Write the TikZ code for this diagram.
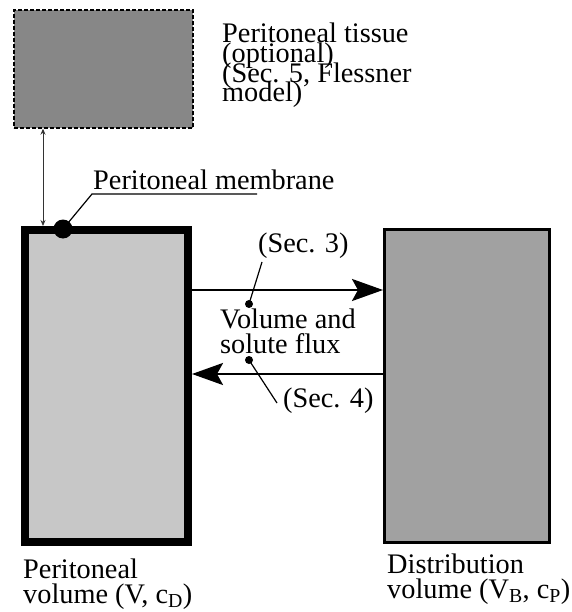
\documentclass[tikz,border=0pt]{standalone}
\usepackage{fontspec}
\setmainfont{Liberation Serif}
\usetikzlibrary{arrows.meta}

\definecolor{tissuegray}{gray}{0.53}
\definecolor{pvolgray}{gray}{0.78}
\definecolor{dvolgray}{gray}{0.63}

\tikzset{
  lbl/.style={inner sep=0pt, anchor=base west, align=left,
    font={\fontsize{28.3}{25}\selectfont\lineskiplimit -100pt\relax}},
  tightlbl/.style={lbl, font={\fontsize{28.3}{19.7}\selectfont\lineskiplimit -100pt\relax}},
  flow/.style={line width=2.6pt, -{Stealth[length=31pt, width=22pt, inset=6pt]}},
  lead/.style={line width=1.2pt},
  pin/.style={circle, fill, inner sep=0pt, minimum size=8pt}
}

\begin{document}
\begin{tikzpicture}[x=1pt, y=-1pt]
    \useasboundingbox (0,0) rectangle (571,612);

    % compartments
    \node[draw, dash pattern=on 4pt off 2pt, line width=1.4pt, fill=tissuegray,
          minimum width=179pt, minimum height=118pt] (tissue) at (103.5,69) {};
    \node[draw, line width=8pt, fill=pvolgray,
          minimum width=163pt, minimum height=312pt] (pvol) at (106.5,386) {};
    \node[draw, line width=3pt, fill=dvolgray,
          minimum width=165pt, minimum height=313pt] (dvol) at (467,386) {};

    % tissue link
    \coordinate (link) at (43,0);
    \draw[line width=0.8pt, black!80, {Stealth[length=6pt, width=5pt]}-{Stealth[length=6pt, width=5pt]}]
        (tissue.south -| link) -- (pvol.north -| link);

    % membrane
    \node[circle, fill, inner sep=0pt, minimum size=19pt] (memdot) at (63,229) {};
    \node[lbl] (memlbl) at (93,190) {Peritoneal membrane};
    \coordinate (memknee) at (92,194);
    \coordinate (memend) at (257,194);
    \draw[lead] (memdot.center) -- (memknee) -- (memend);

    % fluxes
    \draw[flow] (pvol.east |- 0,290) -- (dvol.west |- 0,290);
    \draw[flow] (dvol.west |- 0,374) -- (pvol.east |- 0,374);

    \node[pin] (pina) at (249,304) {};
    \node[pin] (pinb) at (249,360) {};
    \node[lbl] (seca) at (258,252) {(Sec. 3)};
    \node[lbl] (secb) at (283,407) {(Sec. 4)};
    \node[lbl] (fluxlbl) at (220,353) {Volume and\\solute flux};
    \coordinate (seca-foot) at (262,262);
    \coordinate (secb-foot) at (277,403);
    \draw[lead] (seca-foot) -- (pina.center);
    \draw[lead] (pinb.center) -- (secb-foot);

    % labels
    \node[tightlbl] (tissuelbl) at (222,102) {Peritoneal tissue\\(optional)\\(Sec. 5, Flessner\\model)};
    \node[lbl] (pvollbl) at (23,603) {Peritoneal\\volume (V, c\textsubscript{D})};
    \node[lbl] (dvollbl) at (387,598) {Distribution\\volume (V\textsubscript{B}, c\textsubscript{P})};
\end{tikzpicture}
\end{document}
